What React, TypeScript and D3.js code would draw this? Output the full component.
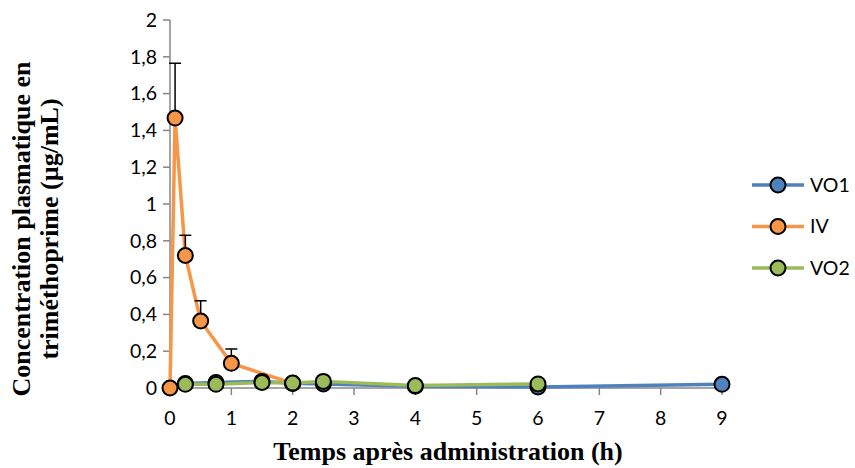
import React from "react";
import * as d3 from "d3";

const xTicks = [0, 1, 2, 3, 4, 5, 6, 7, 8, 9];
const yTicks = [0, 0.2, 0.4, 0.6, 0.8, 1, 1.2, 1.4, 1.6, 1.8, 2];

const vo1Times = [0.25, 0.75, 1.5, 2, 2.5, 4, 6, 9];
const vo1Values = [0.025, 0.03, 0.036, 0.026, 0.022, 0.01, 0.006, 0.02];

const ivTimes = [0, 0.083, 0.25, 0.5, 1, 2];
const ivValues = [0, 1.467, 0.72, 0.364, 0.134, 0.025];
const ivErrors = [0, 0.298, 0.11, 0.11, 0.078, 0];

const vo2Times = [0.25, 0.75, 1.5, 2, 2.5, 4, 6];
const vo2Values = [0.02, 0.02, 0.03, 0.027, 0.036, 0.013, 0.022];

const seriesNames = ["VO1", "IV", "VO2"];
const colors = ["#4F81BD", "#F79646", "#9BBB59"];

export default function App() {
  const W = 855, H = 468;
  const x = d3.scaleLinear().domain([0, 9]).range([170, 722]);
  const y = d3.scaleLinear().domain([0, 2]).range([388, 20]);
  const line = d3
    .line<[number, number]>()
    .x((d) => x(d[0]))
    .y((d) => y(d[1]));

  const series = [
    { name: seriesNames[0], color: colors[0], pts: vo1Times.map((t, i) => [t, vo1Values[i]] as [number, number]) },
    { name: seriesNames[1], color: colors[1], pts: ivTimes.map((t, i) => [t, ivValues[i]] as [number, number]) },
    { name: seriesNames[2], color: colors[2], pts: vo2Times.map((t, i) => [t, vo2Values[i]] as [number, number]) },
  ];

  const tickFont = "Lato, 'Open Sans', sans-serif";
  const titleFont = "'Liberation Serif', 'Times New Roman', serif";
  const axisColor = "#868686";

  return (
    <svg width={W} height={H} style={{ position: "absolute", left: 0, top: 0, background: "#fff" }}>
      {/* axes */}
      <line x1={x(0)} x2={x(0)} y1={y(2)} y2={y(0)} stroke={axisColor} strokeWidth={1.5} />
      <line x1={x(0)} x2={x(9) + 1} y1={y(0)} y2={y(0)} stroke={axisColor} strokeWidth={1.5} />
      {yTicks.map((t) => (
        <g key={"y" + t}>
          <line x1={x(0) - 7} x2={x(0)} y1={y(t)} y2={y(t)} stroke={axisColor} strokeWidth={1.5} />
          <text x={157} y={y(t)} dy="0.35em" textAnchor="end" fontFamily={tickFont} fontSize={19.5} fill="#000">
            {String(t).replace(".", ",")}
          </text>
        </g>
      ))}
      {xTicks.map((t) => (
        <g key={"x" + t}>
          <line x1={x(t)} x2={x(t)} y1={y(0)} y2={y(0) + 7} stroke={axisColor} strokeWidth={1.5} />
          <text x={x(t)} y={425} textAnchor="middle" fontFamily={tickFont} fontSize={19.5} fill="#000">
            {t}
          </text>
        </g>
      ))}
      {/* axis titles */}
      <text x={448} y={460} textAnchor="middle" fontFamily={titleFont} fontWeight="bold" fontSize={26} fill="#000">
        Temps après administration (h)
      </text>
      <g transform="translate(0,229) rotate(-90)">
        <text x={0} y={30} textAnchor="middle" fontFamily={titleFont} fontWeight="bold" fontSize={26} fill="#000">
          Concentration plasmatique en
        </text>
        <text x={0} y={58} textAnchor="middle" fontFamily={titleFont} fontWeight="bold" fontSize={26} fill="#000">
          triméthoprime (µg/mL)
        </text>
      </g>
      {/* lines */}
      {series.map((s) => (
        <path key={"l" + s.name} d={line(s.pts) || ""} fill="none" stroke={s.color} strokeWidth={3.5} strokeLinejoin="round" />
      ))}
      {/* error bars */}
      {ivTimes.map((t, i) =>
        ivErrors[i] > 0 ? (
          <g key={"e" + i}>
            <line x1={x(t)} x2={x(t)} y1={y(ivValues[i])} y2={y(ivValues[i] + ivErrors[i])} stroke="#000" strokeWidth={1.5} />
            <line x1={x(t) - 6} x2={x(t) + 6} y1={y(ivValues[i] + ivErrors[i])} y2={y(ivValues[i] + ivErrors[i])} stroke="#000" strokeWidth={1.5} />
          </g>
        ) : null
      )}
      {/* markers */}
      {series.map((s) => (
        <g key={"m" + s.name}>
          {s.pts.map((p, i) => (
            <circle key={i} cx={x(p[0])} cy={y(p[1])} r={7.5} fill={s.color} stroke="#000" strokeWidth={2} />
          ))}
        </g>
      ))}
      {/* legend */}
      {series.map((s, i) => {
        const ly = 185 + i * 41.5;
        return (
          <g key={"lg" + s.name}>
            <line x1={752} x2={804} y1={ly} y2={ly} stroke={s.color} strokeWidth={3.5} />
            <circle cx={778} cy={ly} r={7.5} fill={s.color} stroke="#000" strokeWidth={2} />
            <text x={810} y={ly} dy="0.35em" fontFamily={tickFont} fontSize={19.5} fill="#000">
              {s.name}
            </text>
          </g>
        );
      })}
    </svg>
  );
}
